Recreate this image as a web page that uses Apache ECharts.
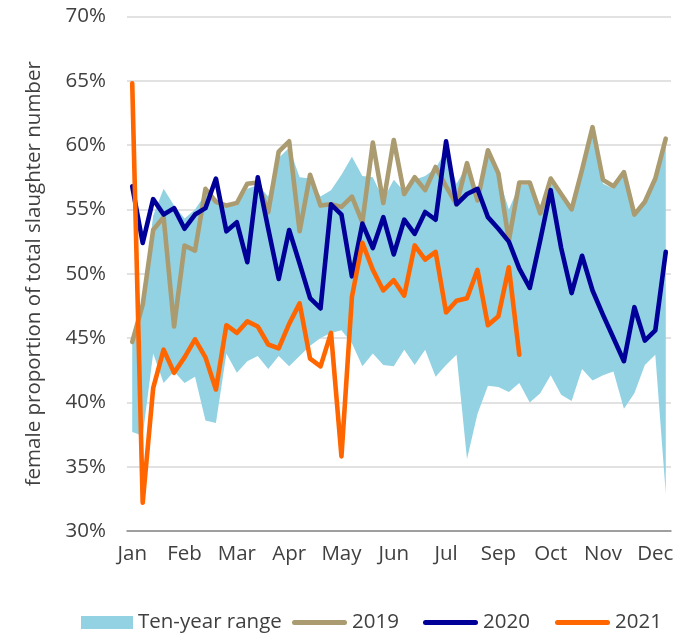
<!DOCTYPE html>
<html><head><meta charset="utf-8">
<script src="https://cdn.jsdelivr.net/npm/echarts@6/dist/echarts.min.js"></script>
<style>html,body{margin:0;padding:0;background:#fff}#c{width:686px;height:634px}</style>
</head><body><div id="c"></div>
<script>
const weeks = [1,2,3,4,5,6,7,8,9,10,11,12,13,14,15,16,17,18,19,20,21,22,23,24,25,26,
  27,28,29,30,31,32,33,34,35,36,37,38,39,40,41,42,43,44,45,46,47,48,49,50,51,52];
const tickLabels = ['Jan','Feb','Mar','Apr','May','Jun','Jul','Sep','Oct','Nov','Dec'];
const rangeLow = [37.7,37.4,43.8,41.5,42.4,41.5,42.0,38.6,38.4,43.8,42.3,43.2,43.6,42.6,43.6,42.8,
  43.6,44.4,45.0,45.4,45.6,44.6,42.8,43.8,42.9,42.8,44.1,42.9,44.1,42.0,42.9,43.7,35.6,39.1,
  41.3,41.2,40.8,41.5,40.0,40.7,42.1,40.6,40.1,42.6,41.7,42.1,42.4,39.5,40.7,42.9,43.7,32.9];
const rangeHigh = [45.0,48.0,54.5,56.6,55.3,54.3,55.0,56.2,55.8,55.2,55.3,56.6,56.9,56.0,59.0,59.8,
  57.5,57.4,56.0,56.5,57.7,59.1,57.6,57.5,55.8,57.3,56.4,57.3,57.6,58.2,59.6,57.0,58.4,56.0,
  59.3,57.6,55.0,56.9,56.9,55.3,57.2,56.0,55.3,57.8,61.0,57.0,56.6,57.6,54.8,55.5,57.2,60.3];
const y2019 = [44.7,47.6,53.4,54.4,45.9,52.2,51.8,56.6,55.6,55.3,55.5,57.0,57.1,54.8,59.5,60.3,
  53.3,57.7,55.3,55.4,55.2,56.0,54.0,60.2,55.5,60.4,56.2,57.5,56.5,58.3,56.8,55.4,58.6,55.7,
  59.6,57.8,52.6,57.1,57.1,54.7,57.4,56.2,55.0,58.1,61.4,57.3,56.8,57.9,54.6,55.6,57.4,60.5];
const y2020 = [56.8,52.4,55.8,54.6,55.1,53.5,54.6,55.1,57.4,53.3,54.0,50.9,57.5,53.5,49.6,53.4,
  50.8,48.1,47.3,55.4,54.6,49.8,53.9,52.0,54.4,51.5,54.2,53.1,54.8,54.2,60.3,55.4,56.2,56.6,
  54.4,53.5,52.5,50.4,48.9,52.6,56.5,52.0,48.5,51.4,48.7,46.8,45.0,43.2,47.4,44.8,45.6,51.7];
const y2021 = [64.8,32.2,41.1,44.1,42.3,43.5,44.9,43.5,41.0,46.0,45.4,46.3,45.9,44.5,44.2,46.1,
  47.7,43.4,42.8,45.4,35.8,48.2,52.4,50.3,48.7,49.5,48.3,52.2,51.1,51.7,47.0,47.9,48.1,50.3,
  46.0,46.7,50.5,43.7];

const FONT = 'Open Sans';
const FS = 20.5;
const TXT = '#404040';
const C_RANGE = '#92D2E3', C19 = '#AB9B70', C20 = '#000099', C21 = '#FF6600';
const pill = 'path://M2.5,0H52.5A2.5,2.5,0,0,1,52.5,5H2.5A2.5,2.5,0,0,1,2.5,0Z';

function lineSeries(name, data, color) {
  return { name, type: 'line', data, color, symbol: 'none', z: 3,
    lineStyle: { color, width: 4.6, cap: 'round', join: 'round' } };
}
function legendAt(left, name, icon, w, h) {
  return { left, top: 612, padding: 0, itemWidth: w, itemHeight: h, itemGap: 0, selectedMode: false,
    textStyle: { fontFamily: FONT, fontSize: FS, color: TXT },
    data: [{ name, icon }] };
}

const chart = echarts.init(document.getElementById('c'));
chart.setOption({
  animation: false,
  grid: { left: 127, right: 15, top: 16.5, bottom: 103 },
  xAxis: {
    type: 'category', data: weeks, boundaryGap: true,
    axisLine: { lineStyle: { color: '#898989', width: 1.5 } },
    axisTick: { show: false },
    axisLabel: { interval: 4, margin: 13, fontFamily: FONT, fontSize: FS, color: TXT,
      formatter: (v, i) => tickLabels[Math.round(i / 5)] }
  },
  yAxis: {
    type: 'value', min: 30, max: 70, interval: 5,
    name: 'female proportion of total slaughter number', nameLocation: 'middle', nameGap: 82,
    nameTextStyle: { fontFamily: FONT, fontSize: FS, color: TXT },
    axisLine: { show: false }, axisTick: { show: false },
    axisLabel: { margin: 21, fontFamily: FONT, fontSize: FS, color: TXT, formatter: '{value}%' },
    splitLine: { lineStyle: { color: '#D9D9D9', width: 1.5 } }
  },
  legend: [
    legendAt(81, 'Ten-year range', 'rect', 52, 13),
    legendAt(292, '2019', pill, 55, 5),
    legendAt(423, '2020', pill, 55, 5),
    legendAt(555, '2021', pill, 55, 5)
  ],
  series: [
    { name: 'base', type: 'line', data: rangeLow, stack: 'range', symbol: 'none', silent: true,
      lineStyle: { opacity: 0 }, z: 1 },
    { name: 'Ten-year range', type: 'line', color: C_RANGE, stack: 'range', symbol: 'none', z: 1,
      data: rangeHigh.map((h, i) => +(h - rangeLow[i]).toFixed(2)),
      lineStyle: { opacity: 0 }, areaStyle: { color: C_RANGE, opacity: 1 } },
    lineSeries('2019', y2019, C19),
    lineSeries('2020', y2020, C20),
    lineSeries('2021', y2021, C21)
  ]
});
</script></body></html>
